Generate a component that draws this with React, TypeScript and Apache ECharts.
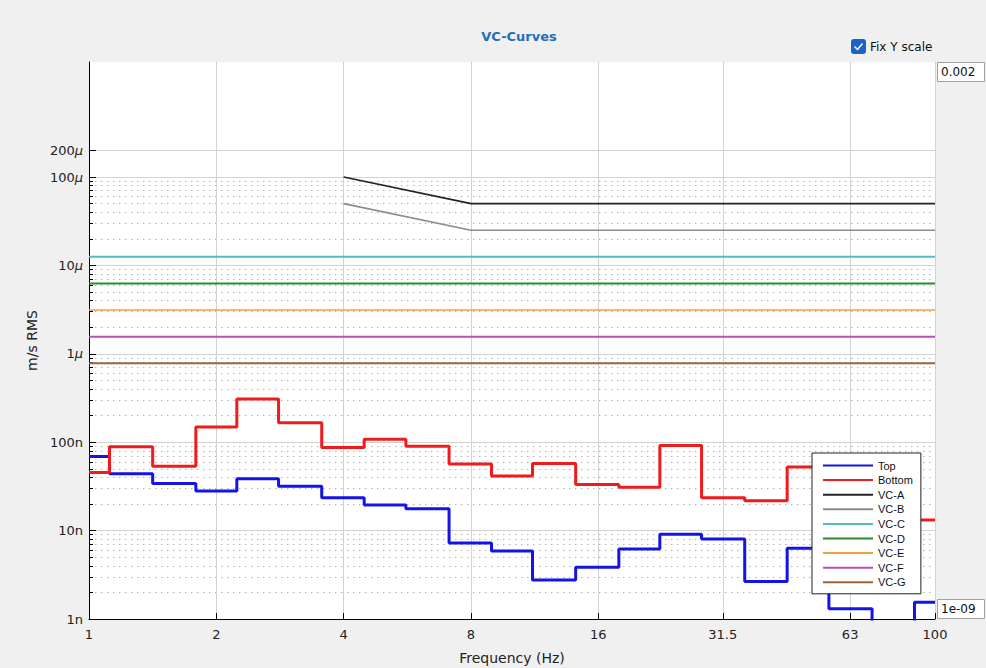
import React, { useEffect, useRef } from 'react';
import * as echarts from 'echarts';

// 1/3-octave band centres (Hz)
const bandFreqs = [1, 1.25, 1.6, 2, 2.5, 3.15, 4, 5, 6.3, 8, 10, 12.5, 16, 20, 25, 31.5, 40, 50, 63, 80, 100];
// measured RMS velocity (m/s)
const topValues = [68.9e-9, 44e-9, 34e-9, 28e-9, 38.5e-9, 31.8e-9, 23.6e-9, 19.5e-9, 17.7e-9, 7.26e-9, 5.89e-9, 2.77e-9, 3.85e-9, 6.2e-9, 9.1e-9, 8.06e-9, 2.65e-9, 6.3e-9, 1.31e-9, 0.6e-9, 1.55e-9];
const bottomValues = [45.4e-9, 89e-9, 53.6e-9, 149e-9, 308e-9, 166e-9, 87e-9, 108e-9, 90e-9, 56.5e-9, 41.6e-9, 57.4e-9, 33.2e-9, 31e-9, 91.8e-9, 23.6e-9, 21.7e-9, 52.3e-9, 30e-9, 20e-9, 13.2e-9];

// VC criteria
const vcABFreqs = [4, 8, 100];
const vcAValues = [100e-6, 50e-6, 50e-6];
const vcBValues = [50e-6, 25e-6, 25e-6];
const vcFlatFreqs = [1, 100];
const vcCLevel = 12.5e-6;
const vcDLevel = 6.25e-6;
const vcELevel = 3.125e-6;
const vcFLevel = 1.5625e-6;
const vcGLevel = 0.78125e-6;

// axes
const xTickValues = [1, 2, 4, 8, 16, 31.5, 63, 100];
const xTickLabels = ['1', '2', '4', '8', '16', '31.5', '63', '100'];
const yMajorTicks = [1e-9, 1e-8, 1e-7, 1e-6, 1e-5, 1e-4, 2e-4];
const yTickLabels = ['1n', '10n', '100n', '1μ', '10μ', '100μ', '200μ'];
const yDecades = [1e-9, 1e-8, 1e-7, 1e-6, 1e-5];
const yMinorMultipliers = [2, 3, 4, 5, 6, 7, 8, 9];
const yMin = 1e-9;
const yMax = 2e-3;

const seriesNames = ['Top', 'Bottom', 'VC-A', 'VC-B', 'VC-C', 'VC-D', 'VC-E', 'VC-F', 'VC-G'];

const FONT = 'DejaVu Sans';

export default function App() {
  const ref = useRef<HTMLDivElement>(null);

  useEffect(() => {
    if (!ref.current) return;
    const chart = echarts.init(ref.current, null, { renderer: 'svg' });

    const yMinorTicks: number[] = [];
    yDecades.forEach((d) => yMinorMultipliers.forEach((m) => yMinorTicks.push(m * d)));

    const pairs = (xs: number[], ys: number[]) => xs.map((x, i) => [x, ys[i]]);
    const flat = (level: number) => vcFlatFreqs.map((x) => [x, level]);

    const stepSeries = (name: string, color: string, values: number[]) => ({
      name,
      type: 'line',
      step: 'middle',
      symbol: 'none',
      data: pairs(bandFreqs, values),
      lineStyle: { color, width: 3 },
      itemStyle: { color },
    });
    const vcSeries = (name: string, color: string, width: number, data: number[][]) => ({
      name,
      type: 'line',
      symbol: 'none',
      data,
      lineStyle: { color, width },
      itemStyle: { color },
    });

    const yLabelFormatter = (v: number) => {
      const i = yMajorTicks.findIndex((t) => Math.abs(t - v) / t < 1e-6);
      const s = i >= 0 ? yTickLabels[i] : '';
      return s.replace('μ', '{mu|μ}');
    };
    const xLabelFormatter = (v: number) => {
      const i = xTickValues.findIndex((t) => Math.abs(t - v) / t < 1e-6);
      return i >= 0 ? xTickLabels[i] : '';
    };

    const option: any = {
      animation: false,
      backgroundColor: '#f0f0f0',
      grid: {
        left: 89,
        right: 51,
        top: 62,
        bottom: 49,
        show: true,
        backgroundColor: '#ffffff',
        borderWidth: 0,
        containLabel: false,
        outerBoundsMode: 'none',
      },
      xAxis: {
        type: 'log',
        logBase: 10,
        min: 1,
        max: 100,
        name: 'Frequency (Hz)',
        nameLocation: 'middle',
        nameGap: 32,
        nameTextStyle: { fontFamily: FONT, fontSize: 14, color: '#222' },
        axisLine: { show: true, lineStyle: { color: '#000', width: 1 } },
        axisTick: { show: true, inside: true, length: 6, customValues: xTickValues, lineStyle: { color: '#000' } },
        axisLabel: {
          customValues: xTickValues,
          formatter: xLabelFormatter,
          fontFamily: FONT,
          fontSize: 13,
          color: '#222',
          margin: 9,
          showMinLabel: true,
          showMaxLabel: true,
          hideOverlap: false,
        },
        splitLine: { show: true, lineStyle: { color: '#d2d2d2', width: 1 } },
        minorTick: { show: false },
        minorSplitLine: { show: false },
      },
      yAxis: [
        {
          type: 'log',
          logBase: 10,
          min: yMin,
          max: yMax,
          position: 'left',
          name: 'm/s RMS',
          nameLocation: 'middle',
          nameGap: 45,
          nameTextStyle: { fontFamily: FONT, fontSize: 14, color: '#222' },
          axisLine: { show: true, lineStyle: { color: '#000', width: 1 } },
          axisTick: { show: true, inside: true, length: 7, customValues: yMajorTicks, lineStyle: { color: '#000' } },
          axisLabel: {
            customValues: yMajorTicks,
            formatter: yLabelFormatter,
            fontFamily: FONT,
            fontSize: 13,
            color: '#222',
            margin: 6,
            showMinLabel: true,
            showMaxLabel: true,
            hideOverlap: false,
            rich: { mu: { fontFamily: FONT, fontSize: 13, fontStyle: 'italic', color: '#222' } },
          },
          splitLine: { show: true, lineStyle: { color: '#d2d2d2', width: 1 } },
        },
        {
          type: 'log',
          logBase: 10,
          min: yMin,
          max: yMax,
          position: 'left',
          axisLine: { show: false },
          axisTick: { show: true, inside: true, length: 4, customValues: yMinorTicks, lineStyle: { color: '#000' } },
          axisLabel: { show: false },
          splitLine: { show: true, lineStyle: { color: '#b4b4b4', width: 1, type: [1.5, 4.5] } },
        },
      ],
      legend: {
        orient: 'vertical',
        left: 812,
        top: 453,
        z: 10,
        data: seriesNames,
        itemWidth: 50,
        itemHeight: 12,
        itemGap: 3.6,
        padding: [7, 8, 6, 10],
        backgroundColor: '#ffffff',
        borderColor: '#222',
        borderWidth: 1,
        borderRadius: 0,
        selectedMode: false,
        itemStyle: { opacity: 0, borderWidth: 0 },
        textStyle: { fontFamily: 'Liberation Sans', fontSize: 11, color: '#111' },
      },
      series: [
        stepSeries('Top', '#1414e6', topValues),
        stepSeries('Bottom', '#ee1c1c', bottomValues),
        vcSeries('VC-A', '#222222', 1.6, pairs(vcABFreqs, vcAValues)),
        vcSeries('VC-B', '#8c8c8c', 1.6, pairs(vcABFreqs, vcBValues)),
        vcSeries('VC-C', '#55bcc0', 2, flat(vcCLevel)),
        vcSeries('VC-D', '#2a8c2a', 2, flat(vcDLevel)),
        vcSeries('VC-E', '#f2a03c', 1.6, flat(vcELevel)),
        vcSeries('VC-F', '#b64fbc', 2, flat(vcFLevel)),
        vcSeries('VC-G', '#a0643a', 2, flat(vcGLevel)),
      ],
      graphic: [
        {
          type: 'text',
          x: 519,
          y: 36,
          style: {
            text: 'VC-Curves',
            align: 'center',
            verticalAlign: 'middle',
            fontFamily: FONT,
            fontSize: 13,
            fontWeight: 'bold',
            fill: '#1f70b8',
          },
        },
        {
          type: 'rect',
          shape: { x: 851, y: 39, width: 15, height: 15, r: 3 },
          style: { fill: '#1a64c8' },
        },
        {
          type: 'polyline',
          shape: { points: [[854.5, 46.5], [857.5, 49.5], [862.5, 43.5]] },
          style: { stroke: '#ffffff', lineWidth: 1.5, fill: null },
        },
        {
          type: 'text',
          x: 870,
          y: 46.5,
          style: { text: 'Fix Y scale', verticalAlign: 'middle', fontFamily: FONT, fontSize: 12, fill: '#111' },
        },
        {
          type: 'rect',
          shape: { x: 937.5, y: 62.5, width: 47, height: 19 },
          style: { fill: '#ffffff', stroke: '#a0a0a0', lineWidth: 1 },
        },
        {
          type: 'text',
          x: 941,
          y: 72,
          style: { text: '0.002', verticalAlign: 'middle', fontFamily: FONT, fontSize: 12, fill: '#111' },
        },
        {
          type: 'rect',
          shape: { x: 937.5, y: 599.5, width: 47, height: 19 },
          style: { fill: '#ffffff', stroke: '#a0a0a0', lineWidth: 1 },
        },
        {
          type: 'text',
          x: 941,
          y: 609,
          style: { text: '1e-09', verticalAlign: 'middle', fontFamily: FONT, fontSize: 12, fill: '#111' },
        },
      ],
    };

    chart.setOption(option);
    return () => chart.dispose();
  }, []);

  return (
    <div
      ref={ref}
      style={{ position: 'fixed', left: 0, top: 0, width: 986, height: 668 }}
    />
  );
}
